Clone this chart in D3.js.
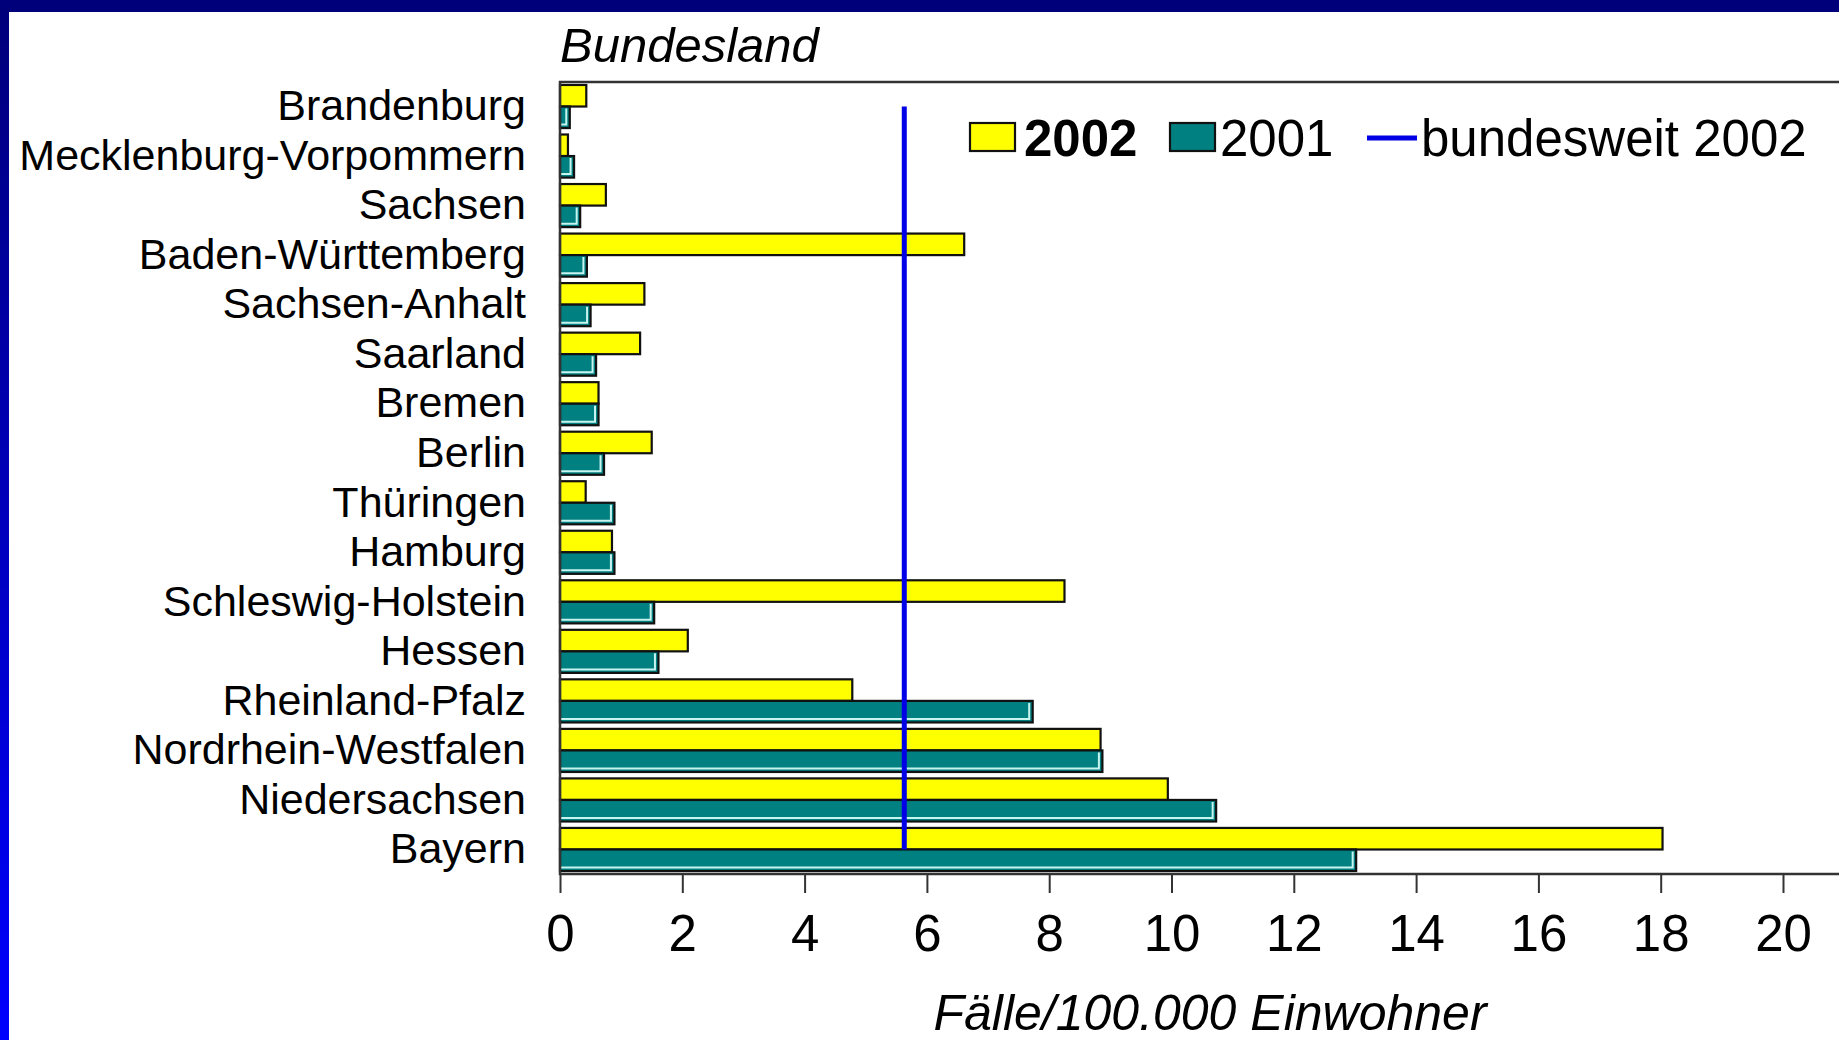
<!DOCTYPE html>
<meta charset="utf-8">
<head>
<style>
body { margin: 0; background: #fff; }
text { font-family: "Liberation Sans", Arial, sans-serif; fill: #000; }
</style>
</head>
<body>
<script src="https://d3js.org/d3.v7.min.js"></script>
<script>

// Bundeslaender, top to bottom as in the chart
var states = ["Brandenburg", "Mecklenburg-Vorpommern", "Sachsen", "Baden-Württemberg",
  "Sachsen-Anhalt", "Saarland", "Bremen", "Berlin", "Thüringen", "Hamburg",
  "Schleswig-Holstein", "Hessen", "Rheinland-Pfalz", "Nordrhein-Westfalen",
  "Niedersachsen", "Bayern"];

// Faelle / 100.000 Einwohner
var cases2002 = [0.43, 0.13, 0.75, 6.61, 1.38, 1.31, 0.63, 1.5, 0.42, 0.85,
  8.25, 2.09, 4.78, 8.84, 9.94, 18.03];
var cases2001 = [0.16, 0.23, 0.33, 0.44, 0.5, 0.59, 0.63, 0.72, 0.89, 0.89,
  1.54, 1.61, 7.73, 8.87, 10.73, 13.02];

var national2002 = 5.63;

var years = ["2002", "2001"];
var xTicks = [0, 2, 4, 6, 8, 10, 12, 14, 16, 18, 20];

var W = 1839, H = 1040;
var plotLeft = 560, plotTop = 82, plotBottom = 874;

var svg = d3.select("body").append("svg")
    .attr("width", W)
    .attr("height", H);

// background with blue frame (top + left)
var defs = svg.append("defs");
var grad = defs.append("linearGradient").attr("id", "edge")
    .attr("x1", 0).attr("y1", 0).attr("x2", 0).attr("y2", 1);
grad.append("stop").attr("offset", "0%").attr("stop-color", "#00007a");
grad.append("stop").attr("offset", "100%").attr("stop-color", "#0000ff");

svg.append("rect").attr("width", W).attr("height", H).attr("fill", "#fff");
svg.append("rect").attr("x", 0).attr("y", 0).attr("width", 9).attr("height", H)
    .attr("fill", "url(#edge)");
svg.append("rect").attr("x", 0).attr("y", 0).attr("width", W).attr("height", 12)
    .attr("fill", "#00007a");

// scales
var x = d3.scaleLinear()
  .domain([0, 20])
  .range([plotLeft, 1783]);

var y = d3.scaleBand()
  .domain(states)
  .range([plotTop, plotBottom])
  .paddingInner(0.13)
  .paddingOuter(0.06);

var yy = d3.scaleBand()
  .domain(years)
  .range([0, y.bandwidth()]);

var rows = states.map(function(s, i) {
  return {state: s, v2002: cases2002[i], v2001: cases2001[i]};
});

// bars 2002
svg.selectAll(".b2002")
    .data(rows)
  .enter().append("rect")
    .attr("class", "b2002")
    .attr("x", x(0))
    .attr("y", function(d) { return y(d.state) + yy("2002"); })
    .attr("width", function(d) { return x(d.v2002) - x(0); })
    .attr("height", yy.bandwidth())
    .attr("fill", "#ffff00")
    .attr("stroke", "#111")
    .attr("stroke-width", 2.2);

// bars 2001 (teal with light inner bevel)
var g01 = svg.selectAll(".b2001")
    .data(rows)
  .enter().append("g")
    .attr("class", "b2001");

g01.append("rect")
    .attr("x", x(0))
    .attr("y", function(d) { return y(d.state) + yy("2001"); })
    .attr("width", function(d) { return x(d.v2001) - x(0); })
    .attr("height", yy.bandwidth())
    .attr("fill", "#008080")
    .attr("stroke", "#111")
    .attr("stroke-width", 2.2);

g01.append("path")
    .attr("fill", "none")
    .attr("stroke", "#c8f4f0")
    .attr("stroke-width", 2)
    .attr("d", function(d) {
      var x0 = x(0) + 1, x1 = x(d.v2001) - 3.5;
      var y0 = y(d.state) + yy("2001") + 2, y1 = y0 + yy.bandwidth() - 5.5;
      return "M" + x0 + "," + y1 + "H" + x1 + "V" + y0;
    });

// frame lines
svg.append("path")
    .attr("fill", "none")
    .attr("stroke", "#333")
    .attr("stroke-width", 2.5)
    .attr("d", "M" + W + "," + plotTop + "H" + plotLeft + "V" + plotBottom + "H" + W);

// bundesweit line
svg.append("line")
    .attr("x1", x(national2002)).attr("x2", x(national2002))
    .attr("y1", y(states[0]) + y.bandwidth() / 2)
    .attr("y2", y(states[states.length - 1]) + y.bandwidth() / 2)
    .attr("stroke", "#0000e6")
    .attr("stroke-width", 5);

// x axis
var xAxis = svg.append("g")
    .attr("transform", "translate(0," + plotBottom + ")")
    .call(d3.axisBottom(x).tickValues(xTicks).tickSize(19).tickPadding(22));
xAxis.select(".domain").remove();
xAxis.selectAll(".tick line").attr("stroke", "#333").attr("stroke-width", 2);
xAxis.selectAll("text")
    .style("font-family", "'Liberation Sans', Arial, sans-serif")
    .style("font-size", "51px");

// y axis labels
var yAxis = svg.append("g")
    .attr("transform", "translate(" + plotLeft + ",0)")
    .call(d3.axisLeft(y).tickSize(0).tickPadding(34));
yAxis.select(".domain").remove();
yAxis.selectAll("text")
    .style("font-family", "'Liberation Sans', Arial, sans-serif")
    .style("font-size", "43px");

// titles
svg.append("text")
    .attr("x", plotLeft)
    .attr("y", 62)
    .style("font-size", "49px")
    .style("font-style", "italic")
    .text("Bundesland");

svg.append("text")
    .attr("x", 1210)
    .attr("y", 1030)
    .attr("text-anchor", "middle")
    .style("font-size", "50px")
    .style("font-style", "italic")
    .text("Fälle/100.000 Einwohner");

// legend
var leg = svg.append("g");
leg.append("rect").attr("x", 970).attr("y", 123).attr("width", 45).attr("height", 28)
    .attr("fill", "#ffff00").attr("stroke", "#111").attr("stroke-width", 2.2);
leg.append("text").attr("x", 1024).attr("y", 156)
    .style("font-size", "51px").style("font-weight", "bold").text(years[0]);
leg.append("rect").attr("x", 1170).attr("y", 123).attr("width", 45).attr("height", 28)
    .attr("fill", "#008080").attr("stroke", "#111").attr("stroke-width", 2.2);
leg.append("text").attr("x", 1220).attr("y", 156)
    .style("font-size", "51px").text(years[1]);
leg.append("line").attr("x1", 1367).attr("x2", 1417).attr("y1", 138).attr("y2", 138)
    .attr("stroke", "#0000e6").attr("stroke-width", 5);
leg.append("text").attr("x", 1421).attr("y", 156)
    .style("font-size", "51px").text("bundesweit 2002");

</script>
</body>
